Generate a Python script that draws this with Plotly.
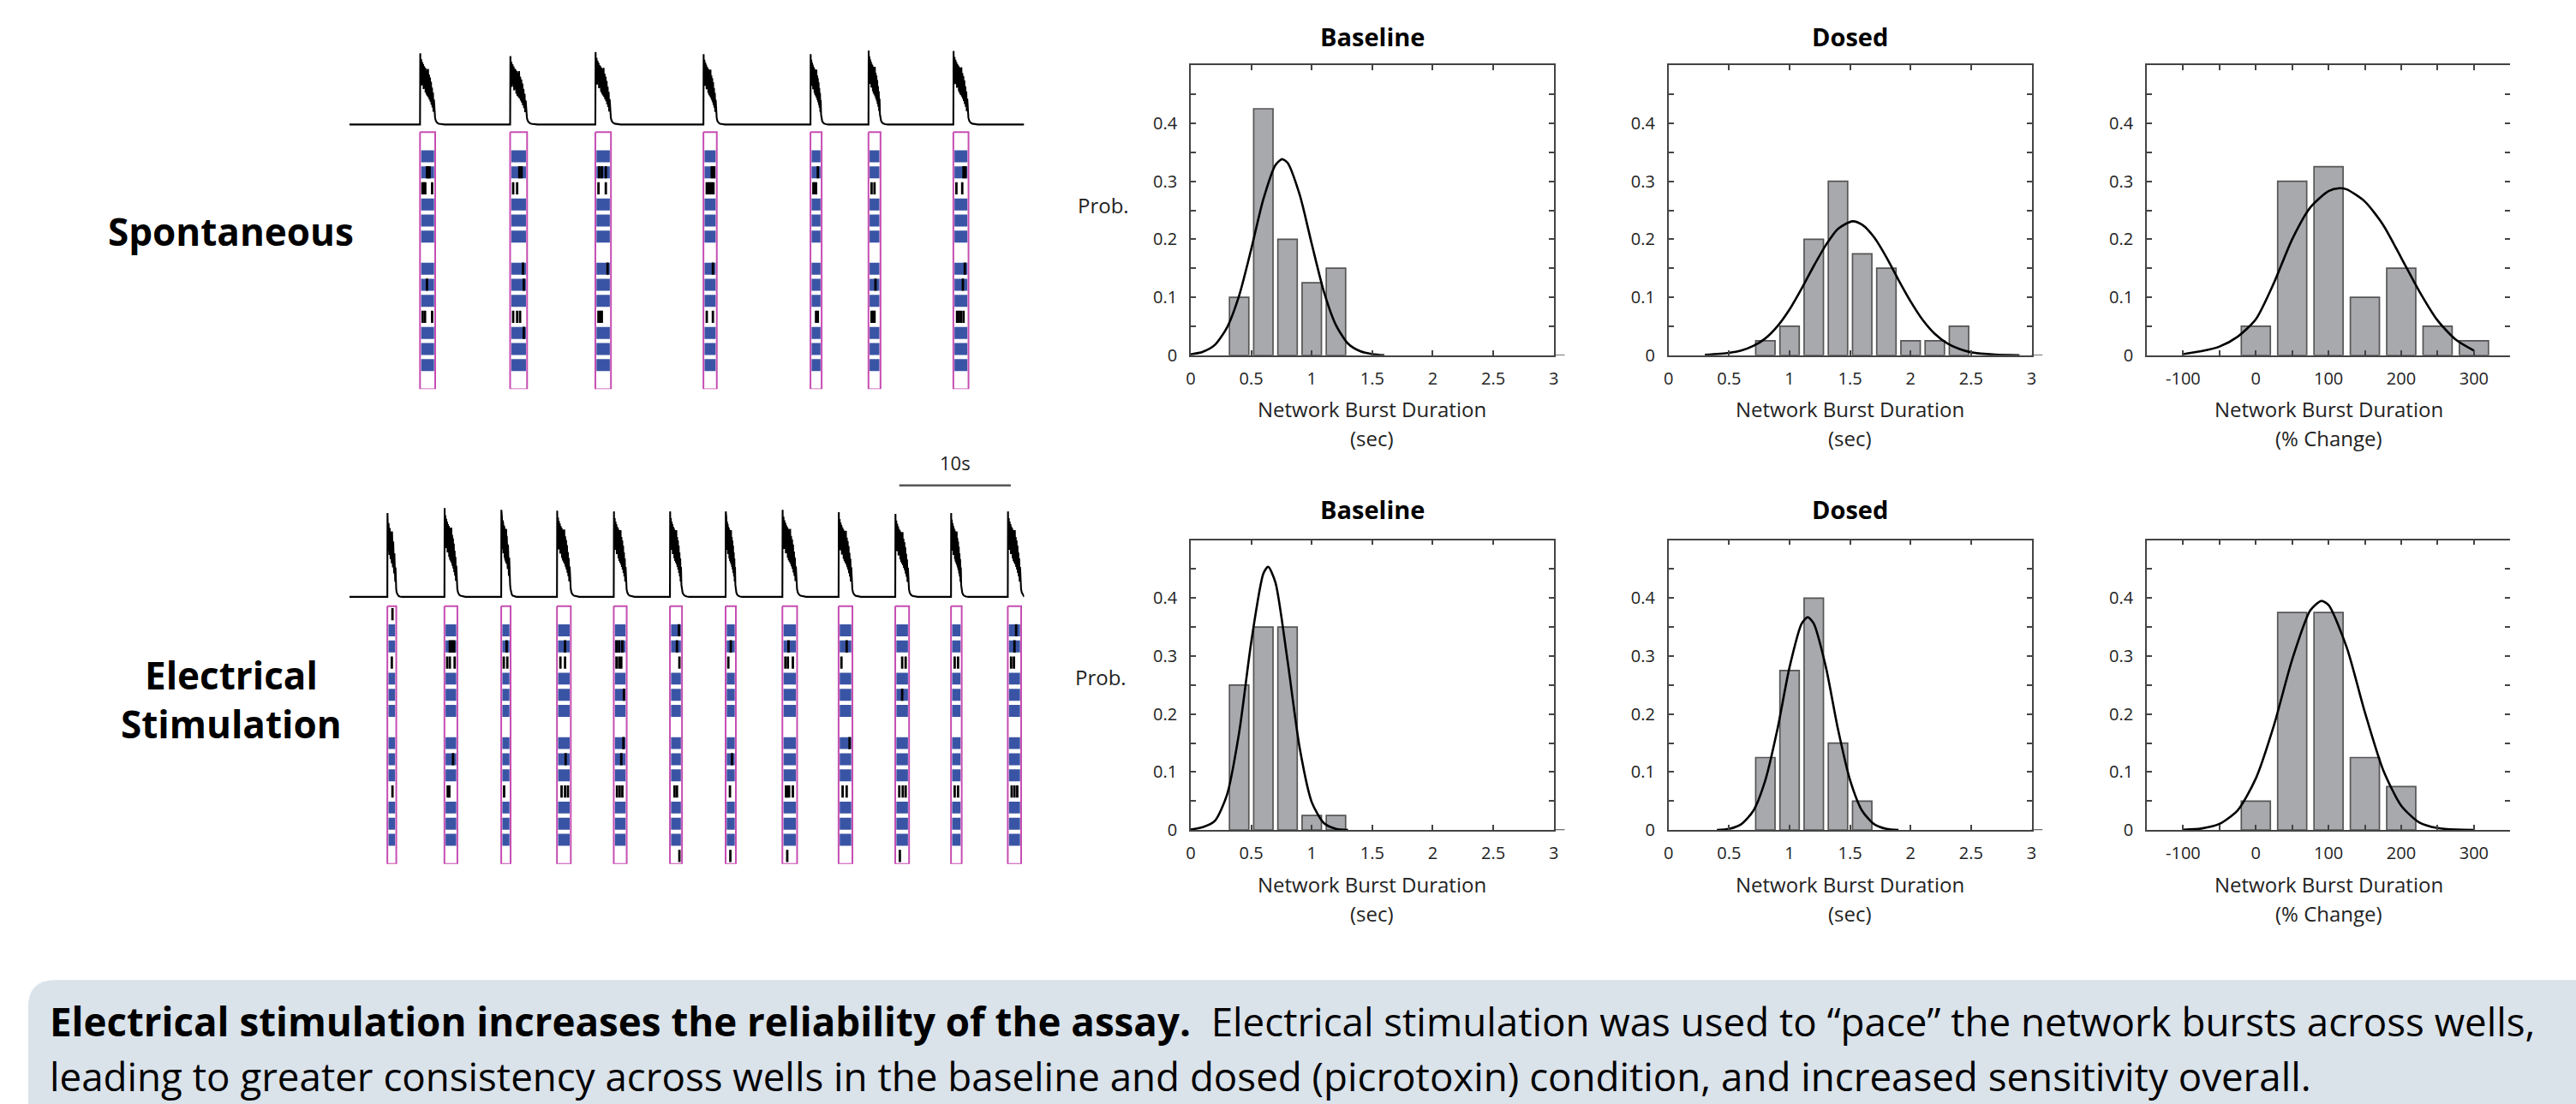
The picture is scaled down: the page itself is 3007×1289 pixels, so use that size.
import plotly.graph_objects as go

W, H = 3007, 1289

# ------------------------------------------------------------------ data
sec_tickvals = [0, 0.5, 1, 1.5, 2, 2.5, 3]
sec_ticktext = ["0", "0.5", "1", "1.5", "2", "2.5", "3"]
pct_tickvals = [-100, -50, 0, 50, 100, 150, 200, 250, 300]
pct_ticktext = ["-100", "", "0", "", "100", "", "200", "", "300"]
prob_tickvals = [0, 0.05, 0.1, 0.15, 0.2, 0.25, 0.3, 0.35, 0.4, 0.45]
prob_ticktext = ["0", "", "0.1", "", "0.2", "", "0.3", "", "0.4", ""]

# Spontaneous - histograms (bin centres, probability)
spont_base_x = [0.4, 0.6, 0.8, 1.0, 1.2]
spont_base_p = [0.1, 0.425, 0.2, 0.125, 0.15]
spont_dosed_x = [0.8, 1.0, 1.2, 1.4, 1.6, 1.8, 2.0, 2.2, 2.4]
spont_dosed_p = [0.025, 0.05, 0.2, 0.3, 0.175, 0.15, 0.025, 0.025, 0.05]
spont_pct_x = [0, 50, 100, 150, 200, 250, 300]
spont_pct_p = [0.05, 0.3, 0.325, 0.1, 0.15, 0.05, 0.025]

# Electrical stimulation - histograms
stim_base_x = [0.4, 0.6, 0.8, 1.0, 1.2]
stim_base_p = [0.25, 0.35, 0.35, 0.025, 0.025]
stim_dosed_x = [0.8, 1.0, 1.2, 1.4, 1.6]
stim_dosed_p = [0.125, 0.275, 0.4, 0.15, 0.05]
stim_pct_x = [0, 50, 100, 150, 200]
stim_pct_p = [0.05, 0.375, 0.375, 0.125, 0.075]

# fitted curves, points
spont_base_fit_x = [0, 0.1, 0.2, 0.3, 0.4, 0.5, 0.6, 0.7, 0.755, 0.8, 0.9, 1.0, 1.1, 1.2, 1.3, 1.4, 1.5, 1.6]
spont_base_fit_y = [0.0015, 0.006, 0.018, 0.048, 0.103, 0.183, 0.269, 0.328, 0.338, 0.332, 0.277, 0.192, 0.11, 0.052, 0.02, 0.007, 0.002, 0.0]
spont_dosed_fit_x = [0.3, 0.5, 0.6, 0.7, 0.8, 0.9, 1.0, 1.1, 1.2, 1.3, 1.4, 1.52, 1.6, 1.7, 1.8, 1.9, 2.0, 2.1, 2.2, 2.3, 2.4, 2.5, 2.7, 2.9]
spont_dosed_fit_y = [0.0006, 0.004, 0.008, 0.016, 0.029, 0.05, 0.079, 0.115, 0.154, 0.19, 0.218, 0.231, 0.225, 0.203, 0.169, 0.13, 0.093, 0.061, 0.037, 0.021, 0.011, 0.005, 0.001, 0.0]
spont_pct_fit_x = [-100, -75, -50, -25, 0, 25, 50, 75, 100, 115, 125, 150, 175, 200, 225, 250, 275, 300]
spont_pct_fit_y = [0.002, 0.007, 0.015, 0.032, 0.062, 0.125, 0.2, 0.255, 0.283, 0.288, 0.286, 0.265, 0.225, 0.168, 0.11, 0.06, 0.027, 0.008]
stim_base_fit_x = [0, 0.1, 0.2, 0.3, 0.4, 0.5, 0.6, 0.64, 0.7, 0.8, 0.9, 1.0, 1.1, 1.2, 1.3]
stim_base_fit_y = [0.001, 0.005, 0.016, 0.061, 0.168, 0.324, 0.442, 0.454, 0.427, 0.292, 0.142, 0.048, 0.012, 0.002, 0.0]
stim_dosed_fit_x = [0.4, 0.5, 0.6, 0.7, 0.8, 0.9, 1.0, 1.1, 1.15, 1.2, 1.3, 1.4, 1.5, 1.6, 1.7, 1.8, 1.9]
stim_dosed_fit_y = [0.0, 0.002, 0.01, 0.033, 0.086, 0.174, 0.281, 0.356, 0.367, 0.356, 0.281, 0.174, 0.086, 0.033, 0.01, 0.002, 0.0]
stim_pct_fit_x = [-100, -75, -50, -25, 0, 25, 50, 75, 90, 100, 125, 150, 175, 200, 225, 250, 275, 300]
stim_pct_fit_y = [0.0005, 0.0026, 0.0106, 0.034, 0.089, 0.181, 0.294, 0.379, 0.395, 0.388, 0.315, 0.203, 0.104, 0.042, 0.013, 0.0034, 0.0007, 0.0001]

# Raster / trace data: network-burst onsets (s), durations (s), trace peak heights
spont_onsets = [6.33, 14.41, 22.05, 31.74, 41.34, 46.54, 54.15]
spont_durs = [1.36, 1.52, 1.40, 1.20, 1.00, 1.08, 1.36]
spont_peaks = [4.43, 4.26, 4.52, 4.38, 4.38, 4.61, 4.58]

stim_onsets = [3.40, 8.52, 13.61, 18.61, 23.70, 28.74, 33.73, 38.82, 43.86, 48.94, 53.94, 59.03]
stim_durs = [0.80, 1.16, 0.84, 1.24, 1.16, 1.08, 0.92, 1.32, 1.24, 1.24, 0.96, 1.20]
stim_peaks = [5.2, 5.5, 5.4, 5.35, 5.3, 5.3, 5.3, 5.4, 5.25, 5.15, 5.2, 5.3]

# electrode rows active (blue) during a burst
active_rows = [1, 2, 4, 5, 6, 8, 9, 10, 12, 13, 14]

# single spikes: (burst index, electrode row, position within burst 0-1)
spont_spikes = [
    (0, 2, 0.45), (0, 2, 0.55), (0, 2, 0.65), (0, 3, 0.1), (0, 3, 0.2), (0, 3, 0.32), (0, 3, 0.85),
    (0, 9, 0.45), (0, 11, 0.12), (0, 11, 0.3), (0, 11, 0.85),
    (1, 2, 0.55), (1, 2, 0.7), (1, 3, 0.13), (1, 3, 0.4), (1, 8, 0.8), (1, 9, 0.85),
    (1, 11, 0.13), (1, 11, 0.4), (1, 11, 0.6), (1, 12, 0.85),
    (2, 2, 0.2), (2, 2, 0.4), (2, 2, 0.7), (2, 3, 0.15), (2, 3, 0.7), (2, 8, 0.83),
    (2, 11, 0.15), (2, 11, 0.3), (2, 11, 0.4),
    (3, 2, 0.65), (3, 2, 0.85), (3, 3, 0.2), (3, 3, 0.35), (3, 3, 0.5), (3, 3, 0.65), (3, 3, 0.8),
    (3, 8, 0.75), (3, 11, 0.2), (3, 11, 0.75),
    (4, 2, 0.7), (4, 3, 0.2), (4, 3, 0.35), (4, 3, 0.5), (4, 11, 0.5), (4, 11, 0.7),
    (5, 3, 0.2), (5, 3, 0.5), (5, 9, 0.6), (5, 11, 0.2), (5, 11, 0.35), (5, 11, 0.5),
    (6, 2, 0.7), (6, 2, 0.85), (6, 3, 0.15), (6, 3, 0.6), (6, 8, 0.8), (6, 9, 0.65),
    (6, 11, 0.2), (6, 11, 0.35), (6, 11, 0.5), (6, 11, 0.7),
]
stim_spikes = [
    (0, 0, 0.6), (0, 3, 0.5), (0, 11, 0.6),
    (1, 2, 0.4), (1, 2, 0.6), (1, 2, 0.8), (1, 3, 0.15), (1, 3, 0.4), (1, 3, 0.85), (1, 9, 0.7),
    (1, 11, 0.2), (1, 11, 0.35),
    (2, 2, 0.6), (2, 3, 0.2), (2, 3, 0.7), (2, 11, 0.25),
    (3, 2, 0.6), (3, 3, 0.2), (3, 3, 0.6), (3, 9, 0.65), (3, 11, 0.3), (3, 11, 0.6), (3, 11, 0.85),
    (4, 2, 0.15), (4, 2, 0.4), (4, 2, 0.7), (4, 3, 0.15), (4, 3, 0.4), (4, 3, 0.6), (4, 5, 0.85),
    (4, 8, 0.8), (4, 9, 0.6), (4, 11, 0.2), (4, 11, 0.45), (4, 11, 0.7),
    (5, 1, 0.8), (5, 2, 0.6), (5, 3, 0.85), (5, 11, 0.35), (5, 11, 0.6), (5, 15, 0.85),
    (6, 2, 0.5), (6, 3, 0.2), (6, 9, 0.65), (6, 11, 0.4), (6, 15, 0.45),
    (7, 2, 0.4), (7, 3, 0.15), (7, 3, 0.35), (7, 3, 0.75), (7, 11, 0.2), (7, 11, 0.3), (7, 11, 0.45),
    (7, 11, 0.75), (7, 15, 0.3),
    (8, 2, 0.6), (8, 3, 0.15), (8, 8, 0.85), (8, 11, 0.25), (8, 11, 0.6),
    (9, 3, 0.5), (9, 3, 0.8), (9, 5, 0.5), (9, 11, 0.25), (9, 11, 0.55), (9, 11, 0.8), (9, 15, 0.3),
    (10, 3, 0.3), (10, 3, 0.7), (10, 11, 0.3), (10, 11, 0.7),
    (11, 1, 0.65), (11, 2, 0.5), (11, 3, 0.2), (11, 3, 0.45), (11, 11, 0.25), (11, 11, 0.5), (11, 11, 0.75),
]

# shape of one network burst in the summed trace (time as fraction of burst, height as fraction of peak)
burst_shape_t = [0.00, 0.016, 0.043, 0.076, 0.108, 0.140, 0.173, 0.205, 0.238, 0.270, 0.302, 0.335, 0.367,
                 0.400, 0.432, 0.464, 0.497, 0.529, 0.562, 0.594, 0.626, 0.659, 0.691, 0.724, 0.756, 0.788,
                 0.821, 0.853, 0.886, 0.918, 0.950, 0.994, 1.048, 1.134, 1.242, 1.404, 1.62]
burst_shape_a = [0.00, 1.00, 0.62, 0.92, 0.55, 0.88, 0.58, 0.85, 0.50, 0.82, 0.52, 0.80, 0.45, 0.78, 0.42,
                 0.76, 0.40, 0.78, 0.38, 0.70, 0.35, 0.66, 0.32, 0.60, 0.28, 0.52, 0.24, 0.45, 0.18, 0.35,
                 0.14, 0.09, 0.05, 0.025, 0.012, 0.004, 0.0]

record_len = 60.5
n_rows = 16

# ------------------------------------------------------------------ styling
FONT = "Open Sans"
AX_COL = "#444444"
BAR_FILL = "#a7a9ac"
BAR_EDGE = "#555555"
BLUE = "#3a54a5"
MAGENTA = "#c64db2"


def fx(p):
    return p / W


def fy(p):
    return 1 - p / H


fig = go.Figure()

# ------------------------------------------------------------------ histograms
hist_dom_x = {"base": [fx(1389.5), fx(1815)], "dosed": [fx(1949.5), fx(2375)], "pct": [fx(2510), fx(2936)]}
hist_dom_y = {"top": [fy(419), fy(77)], "bot": [fy(979), fy(637)]}

panels = [
    (1, "base", "top", spont_base_x, spont_base_p, spont_base_fit_x, spont_base_fit_y, "sec"),
    (2, "dosed", "top", spont_dosed_x, spont_dosed_p, spont_dosed_fit_x, spont_dosed_fit_y, "sec"),
    (3, "pct", "top", spont_pct_x, spont_pct_p, spont_pct_fit_x, spont_pct_fit_y, "pct"),
    (4, "base", "bot", stim_base_x, stim_base_p, stim_base_fit_x, stim_base_fit_y, "sec"),
    (5, "dosed", "bot", stim_dosed_x, stim_dosed_p, stim_dosed_fit_x, stim_dosed_fit_y, "sec"),
    (6, "pct", "bot", stim_pct_x, stim_pct_p, stim_pct_fit_x, stim_pct_fit_y, "pct"),
]

tickfont = dict(family=FONT, size=20, color="#222")
layout_axes = {}
right_axis_idx = {3: 9, 6: 10}
shapes = []

for idx, col, row, bx, bp, fxs, fys, kind in panels:
    xa = "x" if idx == 1 else f"x{idx}"
    ya = "y" if idx == 1 else f"y{idx}"
    bw = 0.16 if kind == "sec" else 40
    fig.add_trace(go.Bar(x=bx, y=bp, width=bw, xaxis=xa, yaxis=ya,
                         marker=dict(color=BAR_FILL, line=dict(color=BAR_EDGE, width=1.7)),
                         showlegend=False))
    fig.add_trace(go.Scatter(x=fxs, y=fys, mode="lines", xaxis=xa, yaxis=ya,
                             line=dict(color="black", width=2.6, shape="spline", smoothing=0.7),
                             showlegend=False))
    xkey = "xaxis" if idx == 1 else f"xaxis{idx}"
    ykey = "yaxis" if idx == 1 else f"yaxis{idx}"
    if kind == "sec":
        xr, tv, tt = [0, 3], sec_tickvals, sec_ticktext
    else:
        xr, tv, tt = [-150, 350], pct_tickvals, pct_ticktext
    layout_axes[xkey] = dict(domain=hist_dom_x[col], anchor=ya, range=xr, tickvals=tv, ticktext=tt,
                             ticks="inside", ticklen=6, tickwidth=1.5, tickcolor=AX_COL,
                             showline=True, linecolor=AX_COL, linewidth=1.6, mirror="ticks",
                             showgrid=False, zeroline=False, tickfont=tickfont, ticklabelstandoff=8)
    layout_axes[ykey] = dict(domain=hist_dom_y[row], anchor=xa, range=[0, 0.5],
                             tickvals=prob_tickvals, ticktext=prob_ticktext,
                             ticks="inside", ticklen=6, tickwidth=1.5, tickcolor=AX_COL,
                             showline=True, linecolor=AX_COL, linewidth=1.6,
                             mirror="ticks" if kind == "sec" else False,
                             showgrid=False, zeroline=False, tickfont=tickfont, ticklabelstandoff=10)
    if kind == "pct":
        r = right_axis_idx[idx]
        layout_axes[f"yaxis{r}"] = dict(overlaying=ya, anchor=xa, side="right", range=[0, 0.5],
                                        tickvals=prob_tickvals, ticks="inside", ticklen=6, tickwidth=1.5,
                                        tickcolor=AX_COL, showticklabels=False, showline=False,
                                        showgrid=False, zeroline=False)
        fig.add_trace(go.Scatter(x=[None], y=[None], xaxis=xa, yaxis=f"y{r}", showlegend=False))
    else:
        # bottom axis line runs a little past the frame
        shapes.append(dict(type="line", xref=f"{xa} domain", yref=ya, x0=1, x1=1.03, y0=0, y1=0,
                           line=dict(color=AX_COL, width=1.6)))

# ------------------------------------------------------------------ raster + traces
raster_panels = [
    (7, spont_onsets, spont_durs, spont_peaks, spont_spikes, [fy(459), fy(57)], [-n_rows, 5.22], 0.475),
    (8, stim_onsets, stim_durs, stim_peaks, stim_spikes, [fy(1019), fy(535)], [-n_rows, 9.47], 0.58),
]
pad = 0.1
for idx, onsets, durs, peaks, spikes, ydom, yr, base in raster_panels:
    xa, ya = f"x{idx}", f"y{idx}"
    # summed activity trace
    tx, ty = [0.0], [base]
    for t0, d, pk in zip(onsets, durs, peaks):
        tx.append(t0)
        ty.append(base)
        for s, a in zip(burst_shape_t, burst_shape_a):
            t = t0 + s * d
            if t <= record_len:
                tx.append(t)
                ty.append(base + a * pk)
    if tx[-1] < record_len:
        tx.append(record_len)
        ty.append(base)
    fig.add_trace(go.Scatter(x=tx, y=ty, mode="lines", xaxis=xa, yaxis=ya,
                             line=dict(color="black", width=2.1), showlegend=False))
    # blue activity blocks
    bys, bbase, blen = [], [], []
    for t0, d in zip(onsets, durs):
        for r in active_rows:
            bys.append(-(r + 0.5))
            bbase.append(t0 + pad)
            blen.append(d - 2 * pad)
    fig.add_trace(go.Bar(y=bys, x=blen, base=bbase, orientation="h", width=0.74,
                         xaxis=xa, yaxis=ya, marker=dict(color=BLUE, line=dict(width=0)),
                         showlegend=False))
    # spikes
    sx, sy = [], []
    for b, r, pos in spikes:
        t = onsets[b] + pad + pos * (durs[b] - 2 * pad)
        sx += [t, t, None]
        sy += [-(r + 0.88), -(r + 0.12), None]
    fig.add_trace(go.Scatter(x=sx, y=sy, mode="lines", xaxis=xa, yaxis=ya,
                             line=dict(color="black", width=2.8), showlegend=False))
    # magenta burst windows
    mx, my = [], []
    for t0, d in zip(onsets, durs):
        mx += [t0, t0 + d, t0 + d, t0, t0, None]
        my += [0, 0, -n_rows, -n_rows, 0, None]
    fig.add_trace(go.Scatter(x=mx, y=my, mode="lines", xaxis=xa, yaxis=ya,
                             line=dict(color=MAGENTA, width=2), showlegend=False))
    layout_axes[f"xaxis{idx}"] = dict(domain=[fx(403.5), fx(1194.3)], anchor=ya, range=[0, record_len],
                                      visible=False, showgrid=False, zeroline=False)
    layout_axes[f"yaxis{idx}"] = dict(domain=ydom, anchor=xa, range=yr,
                                      visible=False, showgrid=False, zeroline=False)

# 10 s scale bar (stimulation panel)
scale_start, scale_len, scale_y = 49.3, 10, 7.5
fig.add_trace(go.Scatter(x=[scale_start, scale_start + scale_len], y=[scale_y, scale_y], mode="lines",
                         xaxis="x8", yaxis="y8", line=dict(color="#555", width=2.5), showlegend=False))

# ------------------------------------------------------------------ annotations
ann = []


def label(x, y, text, font, xanchor="center", xref="paper", yref="paper"):
    ann.append(dict(x=x, y=y, xref=xref, yref=yref, text=text, showarrow=False, font=font,
                    xanchor=xanchor, yanchor="middle"))


label(scale_start + scale_len / 2, 8.9, "10s", dict(family=FONT, size=22, color="#222"), xref="x8", yref="y8")

title_font = dict(family=FONT, size=29, color="black")
lab_font = dict(family=FONT, size=24, color="#222")
for col, name in [("base", "Baseline"), ("dosed", "Dosed")]:
    cx = sum(hist_dom_x[col]) / 2
    label(cx, fy(43), f"<b>{name}</b>", title_font)
    label(cx, fy(601), f"<b>{name}</b>", title_font)

for col in ["base", "dosed", "pct"]:
    cx = sum(hist_dom_x[col]) / 2
    unit = "(sec)" if col != "pct" else "(% Change)"
    for y1, y2 in [(482, 517), (1043, 1077)]:
        label(cx, fy(y1), "Network Burst Duration", lab_font)
        label(cx, fy(y2), unit, lab_font)

label(fx(1287), fy(242), "Prob.", lab_font)
label(fx(1284), fy(799), "Prob.", lab_font)

side_font = dict(family=FONT, size=44, color="black")
label(fx(265), fy(273), "<b>Spontaneous</b>", side_font)
label(fx(265), fy(796), "<b>Electrical</b>", side_font)
label(fx(265), fy(854), "<b>Stimulation</b>", side_font)

cap_font = dict(family=FONT, size=45.7, color="black")
label(fx(50), fy(1204),
      "<b>Electrical stimulation increases the reliability of the assay.</b>\u00a0 Electrical stimulation "
      "was used to \u201cpace\u201d the network bursts across wells,", cap_font, xanchor="left")
label(fx(50), fy(1269),
      "leading to greater consistency across wells in the baseline and dosed (picrotoxin) condition, "
      "and increased sensitivity overall.", cap_font, xanchor="left")

# caption background box with rounded corners
x0, x1 = fx(27), 1.01
yt, yb = fy(1156), -0.02
rx, ry = 32 / W, 32 / H
path = (f"M {x0},{yb} L {x0},{yt - ry} Q {x0},{yt} {x0 + rx},{yt} "
        f"L {x1},{yt} L {x1},{yb} Z")
shapes.append(dict(type="path", path=path, xref="paper", yref="paper", fillcolor="#dae2ea",
                   line=dict(width=0), layer="below"))

fig.update_layout(width=W, height=H, margin=dict(l=0, r=0, t=0, b=0), paper_bgcolor="white",
                  plot_bgcolor="rgba(0,0,0,0)", barmode="overlay", showlegend=False,
                  annotations=ann, shapes=shapes, font=dict(family=FONT), **layout_axes)

fig.write_html("out.html")
